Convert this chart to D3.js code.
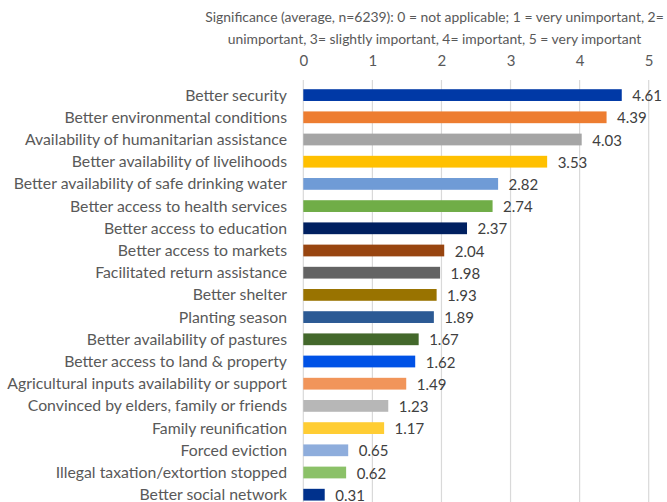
<!DOCTYPE html>
<html>
<head>
<meta charset="utf-8">
<script src="https://cdn.jsdelivr.net/npm/d3@7"></script>
<style>
html,body{margin:0;padding:0;background:#fff;}
svg{display:block;}
text{font-family:Lato, "Open Sans", sans-serif;}
</style>
</head>
<body>
<svg id="chart" width="667" height="502"></svg>
<script>
const categories = [
  "Better security",
  "Better environmental conditions",
  "Availability of humanitarian assistance",
  "Better availability of livelihoods",
  "Better availability of safe drinking water",
  "Better access to health services",
  "Better access to education",
  "Better access to markets",
  "Facilitated return assistance",
  "Better shelter",
  "Planting season",
  "Better availability of pastures",
  "Better access to land & property",
  "Agricultural inputs availability or support",
  "Convinced by elders, family or friends",
  "Family reunification",
  "Forced eviction",
  "Illegal taxation/extortion stopped",
  "Better social network"
];
const values = [4.61, 4.39, 4.03, 3.53, 2.82, 2.74, 2.37, 2.04, 1.98, 1.93, 1.89, 1.67, 1.62, 1.49, 1.23, 1.17, 0.65, 0.62, 0.31];
const colors = ["#0039a6", "#ed7d31", "#a5a5a5", "#ffc000", "#6f9bd6", "#70ad47", "#002060", "#984510", "#636363", "#997300", "#2c5a94", "#43682b", "#0052e6", "#f1955a", "#b7b7b7", "#ffcd33", "#8eaddc", "#8bc168", "#00318c"];
const tickValues = [0, 1, 2, 3, 4, 5];
const titleLines = [
  "Significance (average, n=6239): 0 = not applicable; 1 = very unimportant, 2=",
  "unimportant, 3= slightly important, 4= important, 5 = very important"
];

const svg = d3.select("#chart");
const x = d3.scaleLinear().domain([0, 5]).range([303.3, 648.7]);
const y = d3.scaleBand().domain(categories).range([84, 84 + 19 * 22.2]).paddingInner(0.47).paddingOuter(0.235);

// title
svg.append("g").selectAll("text").data(titleLines).join("text")
  .attr("x", 434.5)
  .attr("y", (d, i) => 22 + i * 21.5)
  .attr("text-anchor", "middle")
  .attr("font-size", 13.9)
  .attr("fill", "#595959")
  .text(d => d);

// gridlines
svg.append("g").selectAll("line").data(tickValues).join("line")
  .attr("x1", d => x(d)).attr("x2", d => x(d))
  .attr("y1", 80).attr("y2", 502)
  .attr("stroke", "#d9d9d9").attr("stroke-width", 1.2);

// top axis labels
const axis = d3.axisTop(x).tickValues(tickValues).tickSize(0).tickPadding(0).tickFormat(d3.format("d"));
const ag = svg.append("g").attr("transform", "translate(0,66)").call(axis);
ag.select(".domain").remove();
ag.selectAll("text").attr("font-size", 15).attr("fill", "#595959").attr("font-family", "Lato, 'Open Sans', sans-serif");

// bars
svg.append("g").selectAll("rect").data(values).join("rect")
  .attr("x", x(0))
  .attr("y", (d, i) => y(categories[i]))
  .attr("width", d => x(d) - x(0))
  .attr("height", y.bandwidth())
  .attr("fill", (d, i) => colors[i]);

// value labels
svg.append("g").selectAll("text").data(values).join("text")
  .attr("x", d => x(d) + 10.5)
  .attr("y", (d, i) => y(categories[i]) + y.bandwidth() / 2 + 6)
  .attr("font-size", 15)
  .attr("fill", "#404040")
  .text(d => d.toFixed(2));

// category labels
svg.append("g").selectAll("text").data(categories).join("text")
  .attr("x", 287)
  .attr("y", d => y(d) + y.bandwidth() / 2 + 5.5)
  .attr("text-anchor", "end")
  .attr("font-size", 15.8)
  .attr("fill", "#595959")
  .text(d => d);
</script>
</body>
</html>
